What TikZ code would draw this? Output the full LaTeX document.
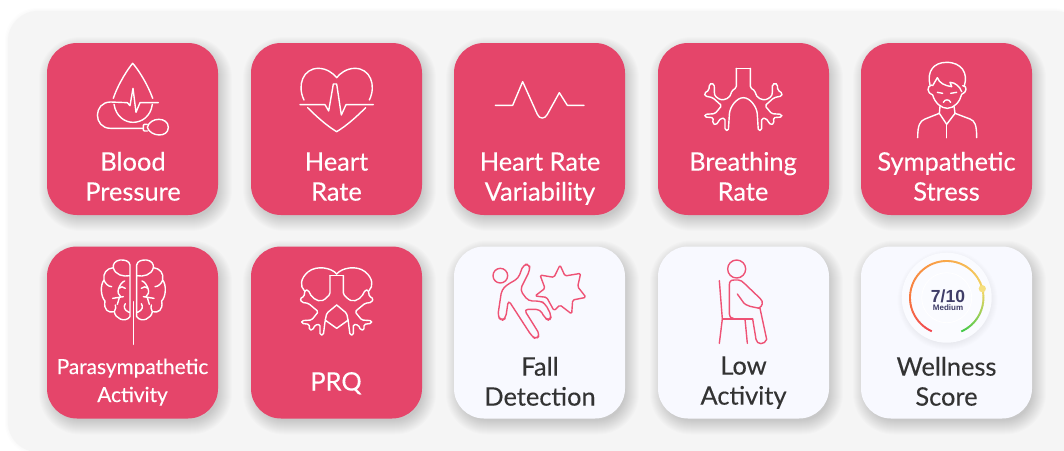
\documentclass[tikz,border=0pt]{standalone}
\usepackage{fontspec}
\setmainfont{Lato}[FakeBold=0.25]
\newfontfamily\gaugefont{Liberation Sans}
\definecolor{cardred}{HTML}{E5456A}
\definecolor{cardpale}{HTML}{F8F9FF}
\definecolor{panelgrey}{HTML}{F5F5F5}
\definecolor{labeldark}{HTML}{333333}
\definecolor{iconred}{HTML}{EE5275}
\definecolor{gaugeink}{HTML}{3F3D68}
\definecolor{gaugeknob}{HTML}{F5DF7F}
\tikzset{
  x=1pt,y=-1pt,
  card/.style={rectangle,rounded corners=30pt,minimum width=171pt,minimum height=172pt,inner sep=0pt},
  redcard/.style={card,fill=cardred},
  palecard/.style={card,fill=cardpale},
  lab/.style={anchor=base,align=center,inner sep=0pt,font=\fontsize{25.4}{30}\selectfont},
  whitelab/.style={lab,text=white},
  darklab/.style={lab,text=labeldark},
  zoomed/.style 2 args={shift={(#1,#2)},scale=1/3},
  wicon/.style={draw=white,line width=1.4pt,line join=round,line cap=round},
  ricon/.style={draw=iconred,line width=1.4pt,line join=round,line cap=round},
}
\newcommand{\bronchihalf}{(21,100) -- (21,158) -- (35,168) -- (38,180)
  .. controls (50,196) and (68,196) .. (78,188) .. controls (90,180) and (86,160) .. (88,148)
  -- (95,145) -- (102,148) -- (103,165) -- (117,175) -- (115,183) -- (92,188) -- (65,212) -- (85,236) -- (115,238) -- (116,246) -- (90,248) -- (92,265) -- (82,270) -- (68,250) -- (55,250) -- (55,285) -- (45,287) -- (42,240)
  .. controls (40,215) and (20,188) .. (0,188)}
\newcommand{\prqhalf}{(20,62) -- (20,118) -- (38,135)
  .. controls (60,142) and (78,125) .. (85,105)
  -- (95,105) -- (98,125) -- (110,130) -- (105,142) -- (85,145) -- (55,170) -- (75,195) -- (105,197) -- (105,205) -- (82,208) -- (82,225) -- (72,225) -- (65,210) -- (50,208) -- (50,240) -- (40,240) -- (35,200) -- (30,175) -- (0,150)
  (35,195) -- (0,220)}
\newcommand{\lobehalf}{(0,57) .. controls (15,38) and (60,30) .. (85,50) .. controls (110,70) and (110,95) .. (97,107)}
\newcommand{\brainhalf}{
  (10,185) -- (10,30) .. controls (12,18) and (25,14) .. (40,15) .. controls (55,17) and (62,28) .. (60,38)
  .. controls (80,40) and (92,55) .. (88,75) .. controls (100,90) and (98,125) .. (85,138)
  .. controls (90,165) and (75,175) .. (57,170) .. controls (55,190) and (25,205) .. (10,185)
  (10,62) .. controls (30,66) and (55,60) .. (60,38)
  (26,78) .. controls (34,80) and (40,90) .. (44,100)
  (24,100) .. controls (30,94) and (38,94) .. (44,100) .. controls (48,112) and (45,120) .. (38,125)
  (30,125) -- (62,130)
  (42,128) -- (48,148)
  (13,172) .. controls (28,165) and (30,155) .. (24,146)
  (57,170) .. controls (52,162) and (52,155) .. (54,150)
  (88,75) .. controls (85,85) and (75,95) .. (65,95)}
\begin{document}
\begin{tikzpicture}
\useasboundingbox (0,0) rectangle (1064,450);
\fill[white] (0,0) rectangle (1064,450);
\foreach \g in {1,2,3} {\fill[black,opacity=.008,rounded corners=32pt] (8-\g,11-\g) rectangle (1085,452+\g);}
\fill[panelgrey,rounded corners=30pt] (8,11) rectangle (1085,452);
% soft shadows
\foreach \cx/\cy/\op in {132.5/129/.013,336.5/129/.013,539.5/129/.013,743.5/129/.013,946.5/129/.013,132.5/332.5/.013,336.5/332.5/.013,539.5/332.5/.013,743.5/332.5/.013,946.5/332.5/.013} {
  \foreach \g in {-3,...,11} {
    \pgfmathsetmacro\rr{30+\g}
    \fill[black,opacity=\op,rounded corners=\rr pt] ({\cx-85.5-\g+3},{\cy-86-\g+5}) rectangle ({\cx+85.5+\g+3},{\cy+86+\g+5});
  }
}
% cards
\node[redcard] (c1) at (132.5,129) {};
\node[redcard] (c2) at (336.5,129) {};
\node[redcard] (c3) at (539.5,129) {};
\node[redcard] (c4) at (743.5,129) {};
\node[redcard] (c5) at (946.5,129) {};
\node[redcard] (c6) at (132.5,332.5) {};
\node[redcard] (c7) at (336.5,332.5) {};
\node[palecard] (c8) at (539.5,332.5) {};
\node[palecard] (c9) at (743.5,332.5) {};
\node[palecard] (c10) at (946.5,332.5) {};
% labels
\node[whitelab] (t1) at (133,200.6) {Blood\\Pressure};
\node[whitelab] (t2) at (336.5,200.6) {Heart\\Rate};
\node[whitelab] (t3) at (540,200.6) {Heart Rate\\Variability};
\node[whitelab] (t4) at (743,200.6) {Breathing\\Rate};
\node[whitelab] (t5) at (946.5,200.6) {Sympathetic\\Stress};
\node[whitelab,font=\fontsize{20.8}{28}\selectfont] (t6) at (132.5,402) {Parasympathetic\\Activity};
\node[whitelab] (t7) at (336,390.5) {PRQ};
\node[darklab] (t8) at (540,405.6) {Fall\\Detection};
\node[darklab] (t9) at (743.5,404.6) {Low\\Activity};
\node[darklab] (t10) at (946.5,405.6) {Wellness\\Score};
% blood pressure
\begin{scope}[zoomed={40}{35}]
\draw[wicon] (220,190) .. controls (235,145) and (265,100) .. (278,85) .. controls (292,100) and (322,145) .. (338,190);
\draw[wicon] (222,208) .. controls (228,245) and (255,262) .. (279,262) .. controls (305,262) and (332,245) .. (337,208);
\draw[wicon] (262,203) -- (212,201) .. controls (159,201) and (159,280) .. (212,280) -- (310,280);
\draw[wicon] (262,203) -- (270,212) -- (279,160) -- (288,232) -- (300,203) -- (355,203);
\draw[wicon] (322,277) .. controls (330,245) and (385,245) .. (385,277) .. controls (385,310) and (330,305) .. (322,277);
\draw[wicon,rounded corners=1pt] (322,268) -- (310,268) -- (310,288) -- (322,288);
% heart
\draw[wicon] (792,195) .. controls (770,150) and (790,100) .. (835,100) .. controls (860,100) and (880,115) .. (890,128) .. controls (900,115) and (920,100) .. (945,100) .. controls (990,100) and (1010,150) .. (988,195);
\draw[wicon] (803,218) .. controls (830,245) and (860,272) .. (890,290) .. controls (920,272) and (950,245) .. (977,218);
\draw[wicon] (780,209) -- (855,209) -- (866,228) -- (880,147) -- (890,147) -- (904,240) -- (918,209) -- (1000,209);
\end{scope}
% hrv
\begin{scope}[zoomed={450}{35}]
\draw[wicon] (136,211) -- (188,211) -- (218,140) -- (262,238) .. controls (268,253) and (285,253) .. (292,238) -- (328,173) -- (352,211) -- (402,211);
\end{scope}
% bronchi
\begin{scope}[shift={(743.33,35)},xscale=1/3,yscale=1/3]
\draw[wicon,rounded corners=1.5pt] \bronchihalf;
\draw[wicon] (-21,100) -- (21,100);
\end{scope}
\begin{scope}[shift={(743.33,35)},xscale=-1/3,yscale=1/3]
\draw[wicon,rounded corners=1.5pt] \bronchihalf;
\end{scope}
% person
\begin{scope}[zoomed={850}{35}]
\draw[wicon] (240,150) .. controls (230,110) and (250,82) .. (290,82) .. controls (335,82) and (355,115) .. (343,152);
\draw[wicon] (245,150) .. controls (230,152) and (230,175) .. (248,180) .. controls (255,205) and (275,220) .. (292,220) .. controls (312,220) and (330,200) .. (335,178) .. controls (352,172) and (352,152) .. (338,152);
\draw[wicon] (248,152) -- (262,128) .. controls (268,145) and (285,152) .. (305,155) -- (300,142) .. controls (315,142) and (330,155) .. (335,170);
\draw[wicon] (262,172) -- (278,175) (302,175) -- (320,172);
\draw[wicon] (280,202) .. controls (285,192) and (297,192) .. (302,202);
\draw[wicon] (270,214) -- (268,235) -- (290,268) -- (315,235) -- (312,214);
\draw[wicon] (268,235) -- (225,252) .. controls (210,258) and (203,270) .. (203,308);
\draw[wicon] (315,235) -- (360,252) .. controls (375,258) and (380,270) .. (380,308);
\draw[wicon] (290,268) -- (290,308);
\end{scope}
% brain
\begin{scope}[shift={(133.33,255)},xscale=1/3,yscale=1/3]
\draw[wicon] \brainhalf;
\draw[wicon] (0,140) -- (0,268);
\end{scope}
\begin{scope}[shift={(133.33,255)},xscale=-1/3,yscale=1/3]
\draw[wicon] \brainhalf;
\end{scope}
% prq
\begin{scope}[shift={(336.67,255)},xscale=1/3,yscale=1/3]
\draw[wicon,rounded corners=1.5pt] \prqhalf;
\draw[wicon] \lobehalf;
\draw[wicon] (-20,62) -- (20,62);
\end{scope}
\begin{scope}[shift={(336.67,255)},xscale=-1/3,yscale=1/3]
\draw[wicon,rounded corners=1.5pt] \prqhalf;
\draw[wicon] \lobehalf;
\end{scope}
% fall
\begin{scope}[zoomed={450}{240}]
\draw[ricon] (151,107) circle (22);
\draw[ricon,rounded corners=4pt] (175,180) -- (245,288) -- (258,298) -- (270,285) -- (222,208) -- (270,208) -- (285,235) -- (298,242) -- (305,228) -- (285,190) -- (270,183) -- (235,183) -- (210,150) -- (240,90) -- (238,72) -- (220,74) -- (205,115) -- (170,135) -- (155,150) -- (143,230) -- (155,242) -- (167,235) -- cycle;
\draw[ricon,rounded corners=1.5pt] (330,75) -- (345,108) -- (392,100) -- (383,140) -- (408,172) -- (368,180) -- (365,222) -- (330,195) -- (312,212) -- (290,172) -- (255,168) -- (285,145) -- (270,105) -- (312,112) -- cycle;
% low activity
\draw[ricon] (860,87) circle (27);
\draw[ricon] (808,122) -- (817,237) -- (808,310);
\draw[ricon] (817,237) -- (908,237);
\draw[ricon] (885,237) -- (892,310);
\draw[ricon] (850,235) .. controls (842,235) and (838,230) .. (838,222) -- (838,135) .. controls (838,125) and (842,120) .. (852,120) -- (865,120) .. controls (872,120) and (878,125) .. (885,132) -- (930,175) .. controls (942,185) and (938,200) .. (925,205);
\draw[ricon] (862,162) -- (875,180) .. controls (882,192) and (890,197) .. (900,199) -- (928,205);
\draw[ricon] (908,237) -- (918,298) .. controls (920,315) and (945,315) .. (950,298) -- (930,205);
\end{scope}
% wellness gauge
\foreach \g in {-2,...,5} {
  \pgfmathsetmacro\gr{45+\g}
  \fill[black,opacity=.007] (947.5,300) circle (\gr);
}
\fill[cardpale!70!white] (946.7,297.7) circle (45);
\draw[white,line width=.8pt] (946.7,297.7) circle (25);
\foreach \a/\b/\ca/\cb in {246/168/F14750/F8803F,168/90/F8803F/F9A848,90/12/F9A848/F2D566,12/-66/F2D566/45C94A} {
  \definecolor{ga}{HTML}{\ca}\definecolor{gb}{HTML}{\cb}
  \foreach \s in {0,1,...,19} {
    \pgfmathsetmacro\mixv{100*\s/19}
    \pgfmathsetmacro\aone{\a+(\b-\a)*\s/20}
    \pgfmathsetmacro\atwo{\a+(\b-\a)*(\s+1.15)/20}
    \draw[color=gb!\mixv!ga,line width=1.9pt] plot[smooth,samples=4,domain=\aone:\atwo,variable=\t] ({946.7+36.7*cos(\t)},{297.7-36.7*sin(\t)});
  }
}
\fill[gaugeknob] (982.3,288.7) circle (3.6);
\node[anchor=base,inner sep=0pt,text=gaugeink,font=\gaugefont\bfseries\fontsize{17.5}{17.5}\selectfont] (g1) at (948,302) {7/10};
\node[anchor=base,inner sep=0pt,text=gaugeink,font=\gaugefont\bfseries\fontsize{8}{8}\selectfont] (g2) at (948,310.5) {Medium};
\end{tikzpicture}
\end{document}
